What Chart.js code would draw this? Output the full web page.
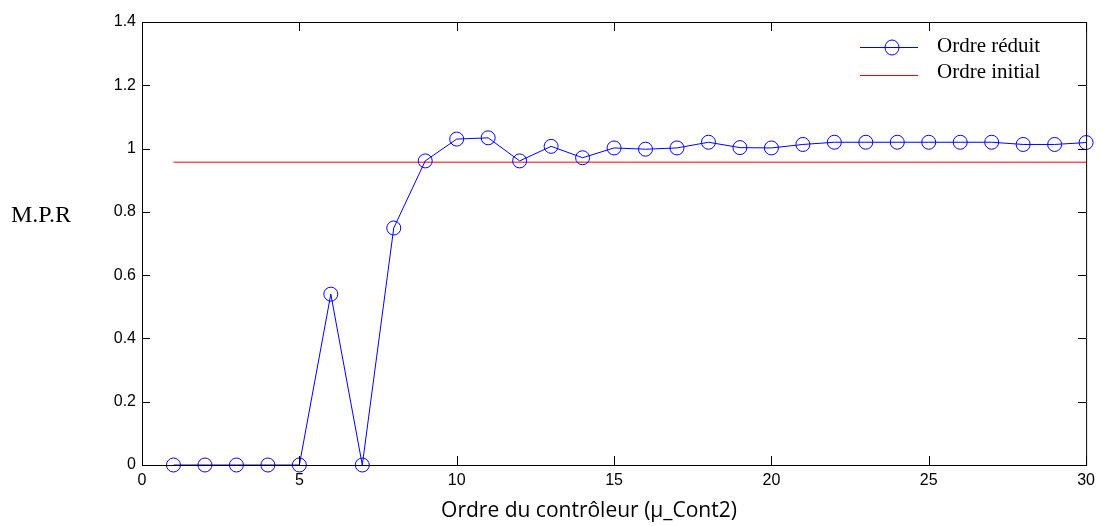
<!DOCTYPE html>
<html>
<head>
<meta charset="utf-8">
<script src="https://cdn.jsdelivr.net/npm/chart.js@4"></script>
<style>
  body { margin: 0; background: #fff; }
  #wrap { width: 1101px; height: 526px; }
</style>
</head>
<body>
<div id="wrap"><canvas id="chart" width="1101" height="526"></canvas></div>
<script>
const orders = [1, 2, 3, 4, 5, 6, 7, 8, 9, 10, 11, 12, 13, 14, 15,
  16, 17, 18, 19, 20, 21, 22, 23, 24, 25, 26, 27, 28, 29, 30];
const mprReduit = [0, 0, 0, 0, 0, 0.54, 0, 0.749, 0.961, 1.030, 1.034, 0.961, 1.007, 0.971, 1.002,
  0.998, 1.002, 1.020, 1.003, 1.002, 1.013, 1.020, 1.020, 1.020, 1.020, 1.020, 1.020, 1.013, 1.013, 1.019];
const initialRange = [1, 30];
const mprInitial = [0.957, 0.957];
const xTicks = [0, 5, 10, 15, 20, 25, 30];
const yTicks = [0, 0.2, 0.4, 0.6, 0.8, 1, 1.2, 1.4];

const BLUE = '#0000ff';
const RED = '#ff0000';

// box + inward tick marks on all four sides
const framePlugin = {
  id: 'frame',
  afterDraw(chart) {
    const { ctx, chartArea: a, scales } = chart;
    ctx.save();
    ctx.strokeStyle = '#000';
    ctx.lineWidth = 1;
    ctx.strokeRect(a.left + 0.5, a.top + 0.5, a.right - a.left, a.bottom - a.top);
    ctx.beginPath();
    xTicks.forEach(v => {
      const x = Math.round(scales.x.getPixelForValue(v)) + 0.5;
      ctx.moveTo(x, a.bottom); ctx.lineTo(x, a.bottom - 9);
      ctx.moveTo(x, a.top); ctx.lineTo(x, a.top + 9);
    });
    yTicks.forEach(v => {
      const y = Math.round(scales.y.getPixelForValue(v)) + 0.5;
      ctx.moveTo(a.left, y); ctx.lineTo(a.left + 8, y);
      ctx.moveTo(a.right, y); ctx.lineTo(a.right - 8, y);
    });
    ctx.stroke();
    ctx.restore();
  }
};

// axis titles and legend, placed like the original figure
const textPlugin = {
  id: 'texts',
  afterDraw(chart) {
    const { ctx } = chart;
    ctx.save();
    ctx.fillStyle = '#000';
    ctx.textBaseline = 'middle';

    ctx.font = '24px "Liberation Serif", "Times New Roman", serif';
    ctx.textAlign = 'left';
    ctx.fillText('M.P.R', 11, 216);

    ctx.font = '21px "Open Sans", sans-serif';
    ctx.textAlign = 'center';
    ctx.fillText('Ordre du contrôleur (µ_Cont2)', 589, 511);

    // legend
    const lx0 = 860, lx1 = 918;
    ctx.lineWidth = 1;
    ctx.strokeStyle = BLUE;
    ctx.beginPath();
    ctx.moveTo(lx0, 47.5); ctx.lineTo(lx1, 47.5);
    ctx.stroke();
    ctx.beginPath();
    ctx.ellipse(892, 47.5, 7, 7.5, 0, 0, Math.PI * 2);
    ctx.stroke();
    ctx.strokeStyle = RED;
    ctx.beginPath();
    ctx.moveTo(lx0, 75.5); ctx.lineTo(lx1, 75.5);
    ctx.stroke();

    ctx.font = '21px "Liberation Serif", "Times New Roman", serif';
    ctx.textAlign = 'left';
    ctx.fillText('Ordre réduit', 937, 46);
    ctx.fillText('Ordre initial', 937, 72);
    ctx.restore();
  }
};

const ctx = document.getElementById('chart').getContext('2d');
new Chart(ctx, {
  type: 'line',
  data: {
    datasets: [{
      label: 'Ordre réduit',
      data: orders.map((o, i) => ({ x: o, y: mprReduit[i] })),
      borderColor: BLUE,
      borderWidth: 1,
      pointStyle: 'circle',
      pointRadius: 7,
      pointBorderColor: BLUE,
      pointBackgroundColor: 'rgba(0,0,0,0)',
      pointBorderWidth: 1,
      tension: 0,
      clip: false
    }, {
      label: 'Ordre initial',
      data: initialRange.map((o, i) => ({ x: o, y: mprInitial[i] })),
      borderColor: RED,
      borderWidth: 1,
      pointRadius: 0,
      tension: 0
    }]
  },
  options: {
    responsive: false,
    animation: false,
    layout: { padding: { top: 22, right: 14, left: 0, bottom: 0 } },
    plugins: { legend: { display: false }, tooltip: { enabled: false } },
    scales: {
      x: {
        type: 'linear',
        min: 0, max: 30,
        afterBuildTicks: s => { s.ticks = xTicks.map(v => ({ value: v })); },
        afterFit: s => { s.height = 61; },
        grid: { display: false, drawTicks: false },
        border: { display: false },
        ticks: { color: '#000', padding: 6, maxRotation: 0,
          font: { family: '"Liberation Sans", Arial, sans-serif', size: 16 } }
      },
      y: {
        min: 0, max: 1.4,
        afterBuildTicks: s => { s.ticks = yTicks.map(v => ({ value: v })); },
        afterFit: s => { s.width = 142; },
        grid: { display: false, drawTicks: false },
        border: { display: false },
        ticks: { color: '#000', padding: 6,
          callback: v => String(Math.round(v * 10) / 10),
          font: { family: '"Liberation Sans", Arial, sans-serif', size: 16 } }
      }
    }
  },
  plugins: [framePlugin, textPlugin]
});
</script>
</body>
</html>
